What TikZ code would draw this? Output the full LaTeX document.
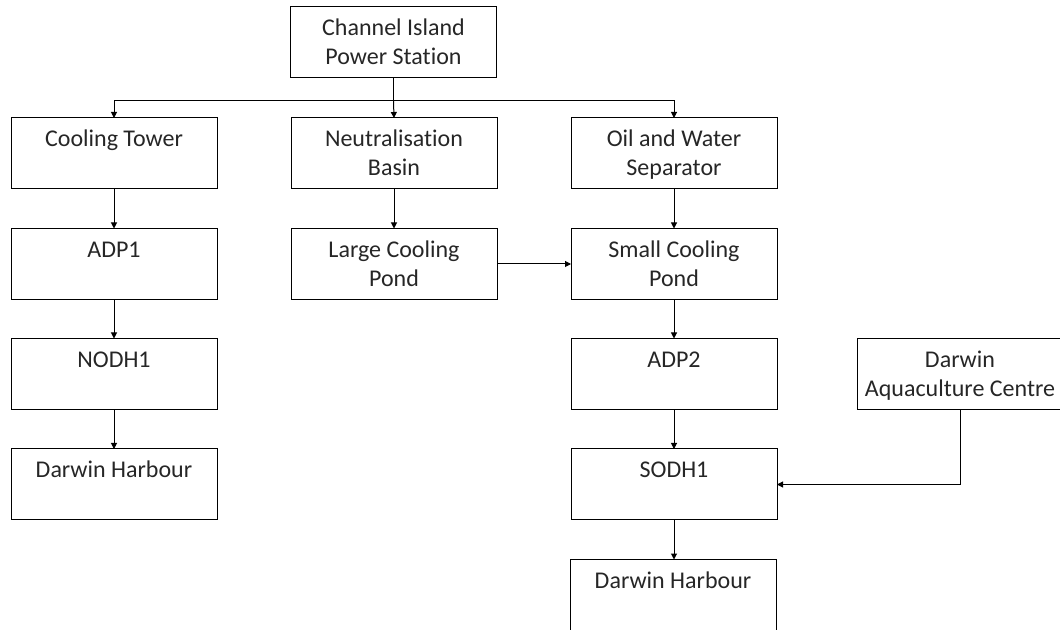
\documentclass[tikz,border=0pt]{standalone}
\usepackage{fontspec}
\setmainfont{Carlito}[Ligatures=NoCommon]
\usetikzlibrary{arrows.meta}
\definecolor{txt}{HTML}{262626}
\definecolor{ln}{HTML}{000000}
\newcommand{\mybx}[1]{\parbox[t][53.25pt][t]{154.5pt}{\centering\rule{0pt}{21.5pt}#1}}
\begin{document}
\begin{tikzpicture}[x=0.75pt,y=-0.75pt,
  box/.style={draw=ln,line width=0.75pt,inner sep=0pt,outer sep=0pt,text=txt,
    font=\fontsize{18}{21.75}\selectfont},
  arr/.style={draw=ln,line width=0.75pt,-{Triangle[length=4.5pt,width=4.5pt]}},
  ln/.style={draw=ln,line width=0.75pt}]
\useasboundingbox (0,0) rectangle (1060,630);
\clip (0,0) rectangle (1060,630);
\node[box] (cis) at (393.5,42.5) {\mybx{Channel Island\\Power Station}};
\node[box] (ct) at (114,153.5) {\mybx{Cooling Tower}};
\node[box] (nb) at (394,153.5) {\mybx{Neutralisation\\Basin}};
\node[box] (ows) at (674,153.5) {\mybx{Oil and Water\\Separator}};
\node[box] (adp1) at (114,264) {\mybx{ADP1}};
\node[box] (lcp) at (394,264) {\mybx{Large Cooling\\Pond}};
\node[box] (scp) at (674,264) {\mybx{Small Cooling\\Pond}};
\node[box] (nodh1) at (114,374) {\mybx{NODH1}};
\node[box] (adp2) at (674,374) {\mybx{ADP2}};
\node[box] (dac) at (960,374.5) {\mybx{Darwin\\Aquaculture Centre}};
\node[box] (dh1) at (114,484.5) {\mybx{Darwin Harbour}};
\node[box] (sodh1) at (674,484.5) {\mybx{SODH1}};
\node[box] (dh2) at (673,595) {\mybx{Darwin Harbour}};
\coordinate (j) at (393.5,101);
\draw[ln] (cis.south) -- (j);
\draw[arr] (j) -| (ct.north);
\draw[arr] (j) -| (ows.north);
\draw[arr] (j) -- (nb.north);
\draw[arr] (ct) -- (adp1);
\draw[arr] (adp1) -- (nodh1);
\draw[arr] (nodh1) -- (dh1);
\draw[arr] (nb) -- (lcp);
\draw[arr] (ows) -- (scp);
\draw[arr] (lcp) -- (scp);
\draw[arr] (scp) -- (adp2);
\draw[arr] (adp2) -- (sodh1);
\draw[arr] (sodh1.south) -- (sodh1.south |- dh2.north);
\draw[arr] (dac.south) |- (sodh1.east);
\end{tikzpicture}
\end{document}
